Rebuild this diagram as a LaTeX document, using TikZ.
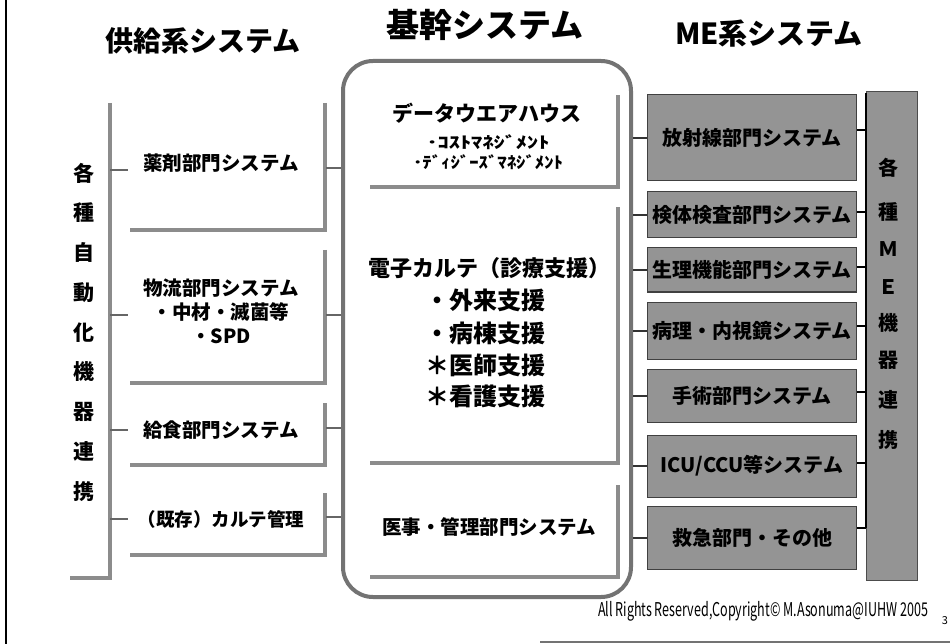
\documentclass[tikz,border=0pt]{standalone}
\usepackage{fontspec}
\usepackage{graphicx}
\setmainfont{Noto Sans CJK JP}
\begin{document}
\begin{tikzpicture}[x=1pt,y=-1pt,
  br/.style={draw=black!45, line width=3.5pt},
  stub/.style={draw=black!60, line width=1.6pt},
  bus/.style={draw=black, line width=1.8pt},
  lbl/.style={inner sep=0pt, align=center},
  mebox/.style={fill=black!42, draw=black!75, line width=1pt, inner sep=0pt,
    minimum width=209pt, font=\fontsize{20}{22}\selectfont\bfseries},
  ]
\useasboundingbox (0,0) rectangle (950,644);
\fill[white] (0,0) rectangle (950,644);
\draw[line width=2pt] (6,0) -- (6,644);
\draw[black!55, line width=1.5pt] (540,642) -- (950,642);

% titles
\node[lbl, font=\fontsize{28}{30}\selectfont\bfseries] (t1) at (203,41) {供給系システム};
\node[lbl, font=\fontsize{33}{35}\selectfont\bfseries] (t2) at (485,25) {基幹システム};
\node[lbl, font=\fontsize{29}{31}\selectfont\bfseries] (t3) at (769,34) {ME系システム};

% left vertical label and bracket
\node[lbl, font=\fontsize{21}{39.75}\selectfont\bfseries] (lv) at (84,332) {各\\種\\自\\動\\化\\機\\器\\連\\携};
\coordinate (lbTop) at (110,103);
\coordinate (lbBot) at (110,578);
\draw[br] (lbTop) -- (lbBot) -- (70,578);

% left systems
\node[lbl, font=\fontsize{19.5}{24}\selectfont\bfseries] (s1) at (221,163) {薬剤部門システム};
\node[lbl, font=\fontsize{19.5}{24}\selectfont\bfseries] (s2) at (221,311) {物流部門システム\\・中材・滅菌等\\・SPD};
\node[lbl, font=\fontsize{19.5}{24}\selectfont\bfseries] (s3) at (221,430) {給食部門システム};
\node[lbl, font=\fontsize{18.5}{24}\selectfont\bfseries] (s4) at (221,519) {（既存）カルテ管理};

\draw[br] (325,103) -- (325,230) -- (130,230);
\draw[br] (325,250) -- (325,383) -- (130,383);
\draw[br] (325,403) -- (325,465) -- (130,465);
\draw[br] (325,493) -- (325,555) -- (130,555);

\foreach \yy in {170,315,430,519} {\draw[stub] (110,\yy) -- ++(18,0);}
\foreach \yy in {168,315,428,517} {\draw[stub] (326,\yy) -- ++(17,0);}

% core box
\node[draw=black!55, line width=4pt, rounded corners=30pt, minimum width=288pt,
  minimum height=536pt, inner sep=0pt] (core) at (487,329) {};
\draw[br] (370,187) -- (618,187) -- (618,95);
\draw[br] (370,463) -- (618,463) -- (618,207);
\draw[br] (370,577) -- (618,577) -- (618,485);

\node[lbl, font=\fontsize{21}{24}\selectfont\bfseries] (dw) at (487,113) {データウエアハウス};
\node[lbl, font=\fontsize{16}{18}\selectfont\bfseries] (dw1) at (488,142) {\resizebox{123pt}{\height}{･ｺｽﾄﾏﾈｼﾞﾒﾝﾄ}};
\node[lbl, font=\fontsize{16}{18}\selectfont\bfseries] (dw2) at (488,162) {\resizebox{150pt}{\height}{･ﾃﾞｨｼﾞｰｽﾞﾏﾈｼﾞﾒﾝﾄ}};
\node[lbl, font=\fontsize{22}{26}\selectfont\bfseries] (ek) at (489,268) {電子カルテ（診療支援）};
\node[lbl, anchor=west, font=\fontsize{24}{26}\selectfont\bfseries] (ek1) at (425,300) {・外来支援};
\node[lbl, anchor=west, font=\fontsize{24}{26}\selectfont\bfseries] (ek2) at (425,333) {・病棟支援};
\node[lbl, anchor=west, font=\fontsize{24}{26}\selectfont\bfseries] (ek3) at (425,365) {＊医師支援};
\node[lbl, anchor=west, font=\fontsize{24}{26}\selectfont\bfseries] (ek4) at (425,396) {＊看護支援};
\node[lbl, font=\fontsize{19.5}{24}\selectfont\bfseries] (iji) at (489,527) {医事・管理部門システム};

% ME boxes
\node[mebox, minimum height=86pt] (m1) at (752,138) {放射線部門システム};
\node[mebox, minimum height=46pt] (m2) at (752,215) {検体検査部門システム};
\node[mebox, minimum height=44pt] (m3) at (752,270) {生理機能部門システム};
\node[mebox, minimum height=57pt] (m4) at (752,331) {病理・内視鏡システム};
\node[mebox, minimum height=53pt] (m5) at (752,396) {手術部門システム};
\node[mebox, minimum height=62pt] (m6) at (752,466) {ICU/CCU等システム};
\node[mebox, minimum height=63pt] (m7) at (752,538) {救急部門・その他};

\foreach \m in {m1,m2,m3,m4,m5,m6,m7} {\draw[stub, draw=black!80] (core.east |- \m.west) -- (\m.west);}

% right tall box
\node[fill=black!42, draw=black!70, line width=1pt, minimum width=51pt, minimum height=488pt,
  inner sep=0pt] (mev) at (892,336) {};
\draw[bus] (866,93) -- (866,528);
\foreach \m/\yy in {m1/130,m2/212,m3/267,m4/326,m5/392,m6/463,m7/528} {\draw[bus] (\m.east |- 0,\yy) -- (866,\yy);}
\foreach \c/\yy in {各/168,種/212,Ｍ/249,Ｅ/287,機/323,器/360,連/400,携/440}
  {\node[lbl, font=\fontsize{20}{22}\selectfont\bfseries] at (888,\yy) {\c};}

% footer
\node[lbl, font=\fontsize{19}{20}\selectfont] (cr) at (763,611) {\resizebox{330pt}{\height}{All Rights Reserved,Copyright© M.Asonuma@IUHW 2005}};
\node[lbl, font=\fontsize{11}{12}\selectfont] (pg) at (945,621) {3};
\end{tikzpicture}
\end{document}
